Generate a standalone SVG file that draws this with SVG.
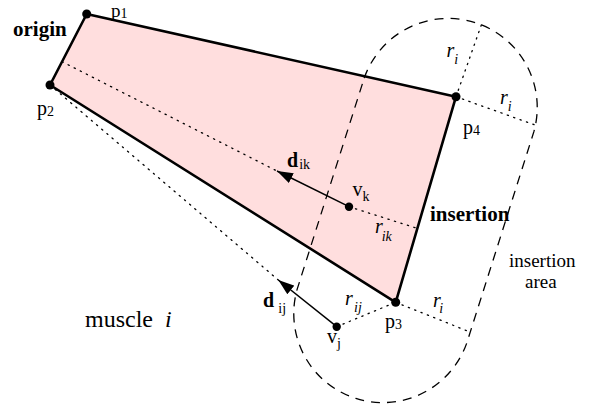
<svg xmlns="http://www.w3.org/2000/svg" width="601" height="412" viewBox="0 0 601 412">
<style>
text{font-family:"Liberation Serif","Times New Roman",serif;fill:#000}
.lbl{font-size:20px}
.sub{font-size:14px}
.bold{font-weight:bold}
.it{font-style:italic}
.dot{fill:none;stroke:#000;stroke-width:1.3;stroke-dasharray:1.3 5.5;stroke-linecap:round}
.dash{fill:none;stroke:#000;stroke-width:1.3;stroke-dasharray:9 7}
.arr{stroke:#000;stroke-width:1.5;fill:none;marker-end:url(#ah)}
.pt{fill:#000}
</style>
<defs>
<marker id="ah" markerUnits="userSpaceOnUse" markerWidth="17" markerHeight="12" refX="16" refY="5.5" orient="auto">
<path d="M0,0 L16,5.5 L0,11 Z" fill="#000"/>
</marker>
</defs>
<g id="muscle">
<polygon points="86.7,14 456,96.7 395.7,302.3 50,85" fill="#ffdede" stroke="#000" stroke-width="2.6" stroke-linejoin="round"/>
</g>
<g id="insertion-area">
<path class="dash" d="M364.2,78.1 A89,89 0 0 1 533.8,131.9 L466.8,342.9 A89,89 0 0 1 297.2,289.1 Z"/>
</g>
<g id="connectors">
<line class="dot" x1="62" y1="61.7" x2="277" y2="171"/>
<line class="dot" x1="50" y1="85" x2="278.3" y2="280"/>
<line class="dot" x1="349" y1="206.7" x2="417" y2="228.3"/>
<line class="dot" x1="336.7" y1="326.7" x2="395.7" y2="302.3"/>
<line class="dot" x1="395.7" y1="302.3" x2="470" y2="332"/>
<line class="dot" x1="456" y1="96.7" x2="535" y2="125"/>
<line class="dot" x1="456" y1="96.7" x2="482" y2="23"/>
<line class="arr" x1="349" y1="206.7" x2="277" y2="171"/>
<line class="arr" x1="336.7" y1="326.7" x2="278.3" y2="280"/>
</g>
<g id="p1"><circle class="pt" cx="86.7" cy="14" r="4.5"/><text class="lbl" x="111" y="17" style="font-size:19px">p<tspan class="sub" dy="1">1</tspan></text></g>
<g id="p2"><circle class="pt" cx="50" cy="85" r="4.5"/><text class="lbl" x="37" y="115">p<tspan class="sub" dy="1">2</tspan></text></g>
<g id="p3"><circle class="pt" cx="395.7" cy="302.3" r="4.5"/><text class="lbl" x="385" y="328">p<tspan class="sub" dy="1">3</tspan></text></g>
<g id="p4"><circle class="pt" cx="456" cy="96.7" r="4.5"/><text class="lbl" x="463" y="134">p<tspan class="sub" dy="1">4</tspan></text></g>
<g id="vk"><circle class="pt" cx="349" cy="206.7" r="4.2"/><text class="lbl" x="352.5" y="196">v<tspan class="sub" dy="5">k</tspan></text></g>
<g id="vj"><circle class="pt" cx="336.7" cy="326.7" r="4.2"/><text class="lbl" x="327" y="343">v<tspan class="sub" dy="5">j</tspan></text></g>
<g id="labels">
<text class="lbl bold" x="13" y="36" style="font-size:21px">origin</text>
<text class="lbl bold" x="430" y="221" style="font-size:21px">insertion</text>
<text class="lbl" x="509" y="267" style="font-size:19px">insertion</text>
<text class="lbl" x="525" y="288" style="font-size:19px">area</text>
<text x="85" y="326.7" style="font-size:24px">muscle <tspan class="it" x="165">i</tspan></text>
<text class="lbl bold" x="287" y="166.7">d<tspan class="sub" style="font-weight:normal" dx="1" dy="2">ik</tspan></text>
<text class="lbl bold" x="263" y="306.7">d<tspan class="sub" style="font-weight:normal" x="278.3" dy="6">ij</tspan></text>
<text class="lbl it" x="446.5" y="57">r<tspan class="sub" dy="7">i</tspan></text>
<text class="lbl it" x="500" y="104">r<tspan class="sub" dy="6.5">i</tspan></text>
<text class="lbl it" x="375" y="233">r<tspan class="sub" x="381.7" dy="8">ik</tspan></text>
<text class="lbl it" x="345" y="305">r<tspan class="sub" x="354" dy="6.5">ij</tspan></text>
<text class="lbl it" x="433" y="306.7">r<tspan class="sub" x="439.3" dy="6.5">i</tspan></text>
</g>
</svg>
